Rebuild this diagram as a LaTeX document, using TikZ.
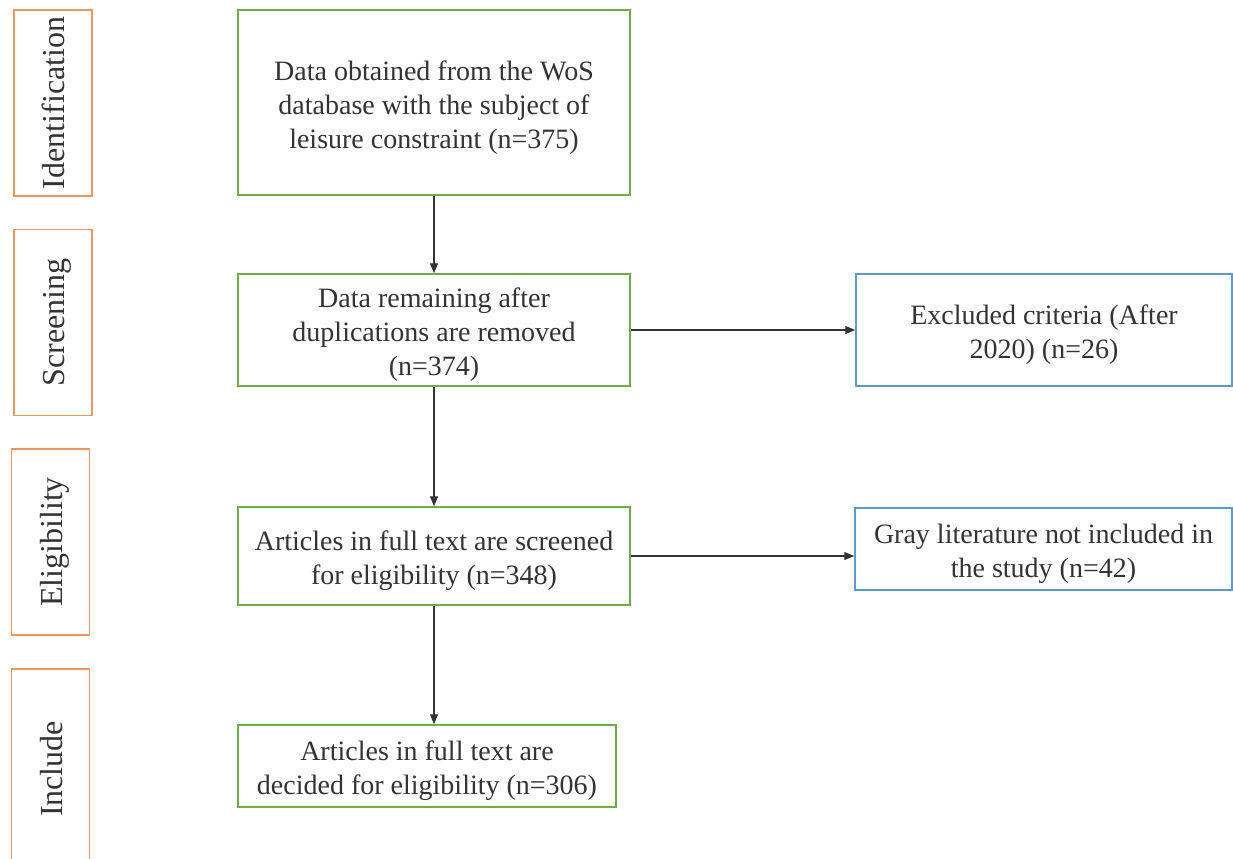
\documentclass[tikz,border=0pt]{standalone}
\usepackage{fontspec}
\setmainfont{Liberation Serif}
\usepackage{xcolor}
\usepackage{tikz}
\usetikzlibrary{positioning,calc,arrows.meta}

\definecolor{phaseorange}{RGB}{237,125,49}
\definecolor{boxgreen}{RGB}{112,173,71}
\definecolor{boxblue}{RGB}{91,155,213}

% a little extra room above the first line of a box
\newcommand{\topgap}{\rule{0pt}{14.5pt}}

\tikzset{
  phase/.style={draw=phaseorange!80, line width=0.8pt, rotate=90,
    minimum width=93pt, minimum height=39pt, inner sep=0pt,
    text height=11.5pt, text depth=0pt,
    font=\fontsize{16}{19}\selectfont, text=black!80},
  mainbox/.style={draw=boxgreen, line width=0.75pt, align=center,
    inner sep=0pt, font=\fontsize{14}{17}\selectfont, text=black!80},
  sidebox/.style={mainbox, draw=boxblue},
  arr/.style={-{Triangle[length=5pt,width=4pt]}, line width=0.6pt, black!80}
}

\begin{document}
\begin{tikzpicture}[x=0.5pt, y=-0.5pt]
    \clip (0,0) rectangle (1233,858);

    % Phase labels on the left
    \node[phase] (ident) at (53,103)   {Identification};
    \node[phase] (screen) at (53,322.5) {Screening};
    \node[phase] (elig) at (50.5,542)  {Eligibility};
    \node[phase, minimum width=100pt] (incl) at (50.5,769) {Include};

    % Main flow
    \node[mainbox, minimum width=196pt, minimum height=92.5pt] (wos) at (434,102.5)
        {\topgap Data obtained from the WoS\\database with the subject of\\leisure constraint (n=375)};
    \node[mainbox, minimum width=196pt, minimum height=56pt] (dup) at (434,330)
        {\topgap Data remaining after\\duplications are removed\\(n=374)};
    \node[mainbox, minimum width=196pt, minimum height=49pt] (full) at (434,556)
        {\topgap Articles in full text are screened\\for eligibility (n=348)};
    \node[mainbox, minimum width=189pt, minimum height=41pt] (final) at (427,766)
        {\topgap Articles in full text are\\decided for eligibility (n=306)};

    % Excluded records
    \node[sidebox, minimum width=188pt, minimum height=56pt] (excl) at (1044,330)
        {\topgap Excluded criteria (After\\2020) (n=26)};
    \node[sidebox, minimum width=188.5pt, minimum height=41pt] (gray) at (1043.5,549)
        {\topgap Gray literature not included in\\the study (n=42)};

    % Connectors
    \draw[arr] (wos.south) -- (dup.north);
    \draw[arr] (dup.south) -- (full.north);
    \draw[arr] (full.south) -- (full.south |- final.north);
    \draw[arr] (dup.east) -- (excl.west);
    \draw[arr] (full.east) -- (full.east -| gray.west);
\end{tikzpicture}
\end{document}
